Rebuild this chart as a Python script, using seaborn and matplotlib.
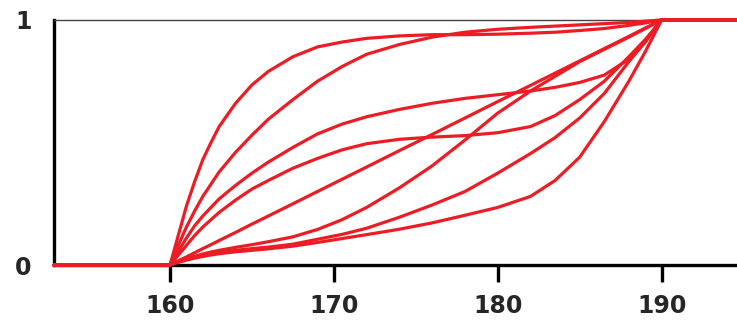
import numpy as np
import pandas as pd
import seaborn as sns
import matplotlib.pyplot as plt

heights = [160, 160.5, 161, 161.5, 162, 162.5, 163, 164, 165, 166, 167.5, 169,
           170.5, 172, 174, 176, 178, 180, 182, 183.5, 185, 186.5, 188, 189, 190]

# cumulative curves (0 at 160, 1 at 190)
cdf_fast = [0, 0.12, 0.24, 0.34, 0.43, 0.50, 0.565, 0.66, 0.735, 0.79, 0.85, 0.89,
            0.91, 0.925, 0.935, 0.94, 0.94, 0.942, 0.946, 0.95, 0.957, 0.965,
            0.978, 0.988, 1]
cdf_concave = [0, 0.08, 0.155, 0.22, 0.28, 0.33, 0.38, 0.46, 0.53, 0.595, 0.675,
               0.75, 0.81, 0.86, 0.90, 0.93, 0.95, 0.962, 0.97, 0.975, 0.98,
               0.985, 0.99, 0.995, 1]
cdf_slow = [0, 0.055, 0.11, 0.16, 0.20, 0.235, 0.27, 0.325, 0.375, 0.42, 0.48,
            0.535, 0.575, 0.605, 0.635, 0.66, 0.68, 0.695, 0.71, 0.725, 0.745,
            0.775, 0.84, 0.91, 1]
cdf_plateau = [0, 0.04, 0.08, 0.12, 0.155, 0.185, 0.215, 0.265, 0.31, 0.345, 0.395,
               0.435, 0.47, 0.495, 0.513, 0.522, 0.528, 0.54, 0.565, 0.61, 0.675,
               0.75, 0.85, 0.92, 1]
cdf_uniform = [0, 0.017, 0.033, 0.05, 0.067, 0.083, 0.1, 0.133, 0.167, 0.2, 0.25,
               0.3, 0.35, 0.4, 0.467, 0.533, 0.6, 0.667, 0.733, 0.783, 0.833,
               0.883, 0.933, 0.967, 1]
cdf_late = [0, 0.014, 0.026, 0.036, 0.045, 0.053, 0.06, 0.072, 0.083, 0.095, 0.115,
            0.145, 0.185, 0.235, 0.315, 0.405, 0.51, 0.62, 0.71, 0.77, 0.83,
            0.88, 0.93, 0.965, 1]
cdf_later = [0, 0.012, 0.022, 0.031, 0.038, 0.045, 0.051, 0.06, 0.067, 0.073, 0.085,
             0.105, 0.125, 0.15, 0.195, 0.245, 0.30, 0.375, 0.455, 0.52, 0.60,
             0.70, 0.83, 0.91, 1]
cdf_latest = [0, 0.011, 0.02, 0.028, 0.035, 0.041, 0.046, 0.054, 0.06, 0.066, 0.077,
              0.092, 0.108, 0.124, 0.146, 0.172, 0.203, 0.235, 0.28, 0.345, 0.44,
              0.585, 0.75, 0.87, 1]

curves = {'fast': cdf_fast, 'concave': cdf_concave, 'slow': cdf_slow,
          'plateau': cdf_plateau, 'uniform': cdf_uniform, 'late': cdf_late,
          'later': cdf_later, 'latest': cdf_latest}

xticks = [160, 170, 180, 190]
yticks = [0, 1]
XLIM = (152.92, 194.6)
RED = '#ED1C24'

# long table, with the flat parts out to the axis edges
rows = []
for name, vals in curves.items():
    xs = [XLIM[0]] + heights + [XLIM[1]]
    ys = [0] + vals + [1]
    for x, y in zip(xs, ys):
        rows.append({'x': x, 'y': y, 'curve': name})
df = pd.DataFrame(rows)

sns.set_style('white')
fig = plt.figure(figsize=(7.37, 3.22), dpi=100)
ax = fig.add_axes([0.0733, 0.177, 0.9267, 0.761])

sns.lineplot(data=df, x='x', y='y', units='curve', estimator=None,
             color=RED, linewidth=2.3, ax=ax, legend=False)
for ln in ax.lines:
    ln.set_clip_on(False)
    ln.set_zorder(5)
    ln.set_solid_joinstyle('round')

ax.set_xlim(*XLIM)
ax.set_ylim(0, 1)
ax.set_xlabel('')
ax.set_ylabel('')

ax.spines['right'].set_visible(False)
ax.spines['left'].set_linewidth(2.4)
ax.spines['left'].set_color('black')
ax.spines['bottom'].set_linewidth(2.4)
ax.spines['bottom'].set_color('black')
ax.spines['top'].set_linewidth(1.0)
ax.spines['top'].set_color('#444444')

ax.set_xticks(xticks)
ax.set_xticklabels([str(t) for t in xticks], fontsize=17, fontweight='bold')
ax.set_yticks(yticks)
ax.set_yticklabels([str(t) for t in yticks], fontsize=17, fontweight='bold')
ax.tick_params(axis='x', bottom=True, length=12, width=2.4, color='black', pad=9)
ax.tick_params(axis='y', left=False, length=0, pad=16)

fig.savefig('out.png', dpi=100)
